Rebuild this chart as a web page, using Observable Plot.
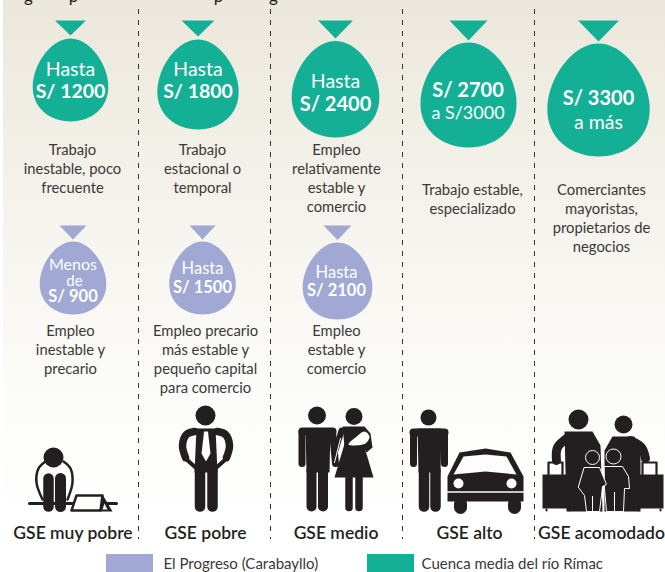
<!DOCTYPE html>
<html><head><meta charset="utf-8">
<script src="https://cdn.jsdelivr.net/npm/d3@7"></script>
<script src="https://cdn.jsdelivr.net/npm/@observablehq/plot@0.6"></script>
<style>html,body{margin:0;padding:0;background:#fff}svg{display:block}</style>
</head><body><div id="chart"></div>
<script>
const teal = "#14b096", lilac = "#a0a8d3", ink = "#231f20", textInk = "#3a3838";
const font = "Lato, 'Open Sans', sans-serif";

// separators between the five groups
const separators = [138, 270, 402, 534];

// [center x, top, bottom, width, triangle half width, triangle top, triangle tip]
const tealBalloons = [
  [70, 38, 121, 71.5, 15.5, 20, 35],
  [197.5, 39, 129, 77, 16.5, 20, 36],
  [335, 40.5, 137, 83, 17.5, 20, 38],
  [468, 42, 147, 91, 19, 20, 40],
  [598, 43, 156, 97, 20.5, 20, 41]
];
const lilacBalloons = [
  [72.5, 241, 314, 63, 13.5, 225, 239],
  [202, 241, 314, 63, 13, 225, 239],
  [337, 242, 319, 66, 14, 225, 239.5]
];

// [text, x, y, size]
const balloonPlain = [
  ["Hasta", 70, 69, 19.5],
  ["Hasta", 197.5, 69, 19.5],
  ["Hasta", 335, 81, 19.5],
  ["a S/3000", 467.5, 113, 18],
  ["a más", 598, 122, 19.5],
  ["Menos", 72.5, 264, 16], ["de", 74, 281, 15],
  ["Hasta", 202, 268, 16.5],
  ["Hasta", 336, 272, 16.5]
];
const balloonBold = [
  ["S/ 1200", 70, 91, 19.5],
  ["S/ 1800", 197.5, 91, 19.5],
  ["S/ 2400", 335, 104, 20],
  ["S/ 2700", 467.5, 90, 20],
  ["S/ 3300", 598, 98, 20],
  ["S/ 900", 72.5, 296, 16.5],
  ["S/ 1500", 202, 287, 16.5],
  ["S/ 2100", 336, 290, 16.5]
];

// [text, x, y]
const descriptions = [
  ["Trabajo", 72, 150], ["inestable, poco", 72, 169], ["frecuente", 72, 188],
  ["Trabajo", 202, 150], ["estacional o", 202, 169], ["temporal", 202, 188],
  ["Empleo", 336, 150], ["relativamente", 336, 169], ["estable y", 336, 188], ["comercio", 336, 207],
  ["Trabajo estable,", 472, 190], ["especializado", 472, 209],
  ["Comerciantes", 601, 190], ["mayoristas,", 601, 209], ["propietarios de", 601, 228], ["negocios", 601, 247],
  ["Empleo", 70, 331], ["inestable y", 70, 350], ["precario", 70, 369],
  ["Empleo precario", 205, 331], ["más estable y", 205, 350], ["pequeño capital", 205, 369], ["para comercio", 205, 388],
  ["Empleo", 336, 331], ["estable y", 336, 350], ["comercio", 336, 369]
];

const groupNames = ["GSE muy pobre", "GSE pobre", "GSE medio", "GSE alto", "GSE acomodado"];
const groupX = [72.5, 205, 335.5, 469, 601];

const legendNames = ["El Progreso (Carabayllo)", "Cuenca media del río Rímac"];
const legendColors = [lilac, teal];
const legendStart = [106, 367];
const legendEnd = [153, 414];
const legendText = [163, 421];

// cropped letters of the heading above the frame
const headingLetters = [["g", 28], ["p", 73], ["p", 218], ["g", 273]];

// heads [x, y, r]
const heads = [[53, 457, 10], [205, 415, 10], [316.5, 415, 9], [353.5, 416, 8.5], [428, 417, 8], [578, 419, 10], [623, 424, 9]];

const X = d => d[0], Y = d => d[1];
const line = (pts, w, opts = {}) => Plot.line(pts, {x: X, y: Y, stroke: ink, strokeWidth: w, strokeLinecap: "round", strokeLinejoin: "round", ...opts});
const shape = (pts, fill = ink, opts = {}) => Plot.line(pts, {x: X, y: Y, fill, stroke: "none", curve: "linear-closed", ...opts});
const arc = {curve: "catmull-rom"};

function egg([cx, top, bottom, w]) {
  const n = 72, k = 0.17, pts = [];
  const tMax = Math.acos((-1 + Math.sqrt(1 + 8 * k * k)) / (4 * k));
  const norm = Math.sin(tMax) * (1 - k * Math.cos(tMax));
  for (let i = 0; i < n; i++) {
    const t = i / n * 2 * Math.PI;
    pts.push([cx + w / 2 * Math.sin(t) * (1 - k * Math.cos(t)) / norm, (top + bottom) / 2 - (bottom - top) / 2 * Math.cos(t)]);
  }
  return pts;
}
const balloon = (b, color) => [
  shape(egg(b), color),
  shape([[b[0] - b[4], b[5]], [b[0] + b[4], b[5]], [b[0], b[6]]], color)
];

const defs = () => {
  const d = d3.create("svg:defs");
  const g = d.append("linearGradient").attr("id", "paper").attr("x1", 0).attr("x2", 0).attr("y1", 0).attr("y2", 1);
  g.append("stop").attr("offset", "0%").attr("stop-color", "#ebe7dc");
  g.append("stop").attr("offset", "40%").attr("stop-color", "#f5f3ec");
  g.append("stop").attr("offset", "75%").attr("stop-color", "#fcfcfa");
  g.append("stop").attr("offset", "100%").attr("stop-color", "#ffffff");
  return d.node();
};

const icons = [
  // very poor
  line([[29, 503], [116, 503]], 3),
  line([[42, 499], [36, 482], [38, 468], [45, 461]], 2.5, arc),
  line([[67, 499], [72, 482], [70, 468], [63, 461]], 2.5, arc),
  line([[48, 478], [48, 506]], 10.5), line([[60, 478], [60, 506]], 11),
  shape([[74, 495], [102, 494], [100, 510], [71, 510]], "#fdfdfb"),
  line([[76, 495], [102, 495], [100, 510], [71, 510], [76, 495]], 2.5),
  shape([[102, 494], [112, 511], [99, 511]]),
  shape([[104, 503], [107, 509], [102, 509]], "#fdfdfb"),
  // poor
  line([[199.5, 470], [199.5, 506]], 10.5), line([[212, 470], [212, 506]], 10.5),
  shape([[196, 428], [215, 428], [217, 472], [194, 472]]),
  line([[194, 431], [186, 434], [182, 445], [185, 457]], 7.5, arc),
  line([[217, 431], [225, 434], [229, 445], [226, 457]], 7.5, arc),
  line([[185, 458], [195, 467]], 4), line([[226, 458], [216, 467]], 4),
  shape([[203.5, 431], [207.5, 431], [208, 436], [210, 453], [205.5, 461], [201, 453], [203, 436]], "#fdfdfb"),
  // medium: man and woman
  line([[311, 470], [311, 506]], 10), line([[322.5, 470], [322.5, 506]], 10),
  shape([[305, 428], [330, 428], [329, 472], [306, 472]]),
  line([[302, 431], [332, 431]], 8),
  line([[301.5, 431], [301.5, 463]], 7), line([[332, 431], [335, 463]], 7),
  line([[348.5, 475], [348.5, 507]], 7.5), line([[358.5, 475], [358.5, 507]], 7.5),
  shape([[345, 440], [362, 440], [373, 477], [334, 477]]),
  shape([[342, 426], [364, 426], [370, 433], [372, 447], [366, 452], [363, 446], [344, 446]]),
  line([[341, 430], [335, 450]], 6),
  shape([[348, 444], [355, 437], [364, 431], [369, 436], [365, 443]], "#fdfdfb", {curve: "catmull-rom-closed"}),
  line([[340, 438], [334, 462]], 1, {stroke: "#fdfdfb"}),
  // high: man and car
  line([[423.5, 470], [423.5, 506]], 10.5), line([[435, 470], [435, 506]], 10.5),
  shape([[417, 428], [441, 428], [440, 472], [418, 472]]),
  line([[413, 432], [444, 432]], 8),
  line([[413, 432], [413, 463]], 7), line([[444, 432], [444, 463]], 7),
  shape([[447, 476], [459, 452], [485, 448], [510, 452], [523, 476], [523, 501], [447, 501]]),
  shape([[453, 474], [463, 456], [485, 454], [506, 456], [516, 474], [485, 471]], "#fdfdfb"),
  line([[447, 491.5], [523, 491.5]], 1.5, {stroke: "#fdfdfb"}),
  line([[460, 503], [460, 507]], 13), line([[514, 503], [514, 507]], 13),
  // wealthy: family with luggage
  line([[556, 460], [557, 447], [569, 436]], 9, arc),
  shape([[564, 431], [592, 431], [600, 445], [602, 511], [566, 511], [565, 470]]),
  line([[645, 458], [641, 447], [630, 440]], 9, arc),
  shape([[612, 436], [634, 436], [640, 450], [640, 511], [604, 511], [604, 450]]),
  shape([[542, 474], [574, 474], [574, 508], [542, 508]]),
  line([[548, 474], [548, 462], [562, 462], [562, 474]], 2.2),
  line([[546, 509], [546, 510]], 2), line([[569, 509], [569, 510]], 2),
  shape([[634, 474], [663, 474], [663, 508], [634, 508]]),
  line([[642, 474], [642, 462], [656, 462], [656, 474]], 2.2),
  line([[638, 509], [638, 510]], 2), line([[660, 509], [660, 510]], 2),
  // children
  shape([[604, 466], [622, 466], [628, 476], [629, 488], [624, 488], [623, 511], [606, 511], [604, 488]], ink, {stroke: "#fff", strokeWidth: 1}),
  shape([[584, 467], [599, 467], [606, 484], [602, 486], [601, 495], [599, 511], [586, 511], [584, 495], [578, 487]], ink, {stroke: "#fff", strokeWidth: 1}),
  line([[614, 492], [614, 511]], 1, {stroke: "#fff"}),
  line([[592, 496], [592, 511]], 1, {stroke: "#fff"})
];

const textOf = (rows, o) => Plot.text(rows, {x: d => d[1], y: d => d[2], text: d => d[0], fontFamily: font, textAnchor: "middle", lineAnchor: "middle", ...o});

const chart = Plot.plot({
  width: 665, height: 572, margin: 0,
  x: {domain: [0, 665], range: [0, 665], axis: null},
  y: {domain: [0, 572], range: [0, 572], axis: null},
  r: {type: "identity"},
  style: {background: "#fff"},
  marks: [
    defs,
    Plot.rect([0], {x1: 3, x2: 665, y1: 0, y2: 530, fill: "url(#paper)"}),
    Plot.text(headingLetters, {x: d => d[1], y: 1, text: d => d[0], fontFamily: font, fontSize: 17, fill: ink, textAnchor: "middle", lineAnchor: "bottom"}),
    Plot.ruleX(separators, {y1: 9, y2: 539, stroke: "#333", strokeWidth: 1, strokeDasharray: "5,6"}),
    tealBalloons.map(b => balloon(b, teal)),
    lilacBalloons.map(b => balloon(b, lilac)),
    textOf(balloonPlain, {fontSize: d => d[3], fontWeight: 400, fill: "#fff"}),
    textOf(balloonBold, {fontSize: d => d[3], fontWeight: 700, fill: "#fff"}),
    textOf(descriptions, {fontSize: 14.8, fill: textInk}),
    icons,
    Plot.dot(heads, {x: X, y: Y, r: d => d[2], fill: ink, stroke: "none"}),
    Plot.dot([[458, 483, 5], [511, 483, 5]], {x: X, y: Y, r: d => d[2], fill: "#fdfdfb", stroke: "none"}),
    Plot.dot([[592, 457, 7], [613, 456, 7.5]], {x: X, y: Y, r: d => d[2], fill: ink, stroke: "#fff", strokeWidth: 1}),
    Plot.text(groupNames, {x: (d, i) => groupX[i], y: 533, text: d => d, fontFamily: font, fontSize: 17.5, fontWeight: 600, fill: ink, textAnchor: "middle", lineAnchor: "middle"}),
    Plot.rect(legendNames, {x1: (d, i) => legendStart[i], x2: (d, i) => legendEnd[i], y1: 554, y2: 572, fill: (d, i) => legendColors[i]}),
    Plot.text(legendNames, {x: (d, i) => legendText[i], y: 564, text: d => d, fontFamily: font, fontSize: 15, fill: textInk, textAnchor: "start", lineAnchor: "middle"})
  ].flat(2)
});
document.getElementById("chart").append(chart);
</script></body></html>
